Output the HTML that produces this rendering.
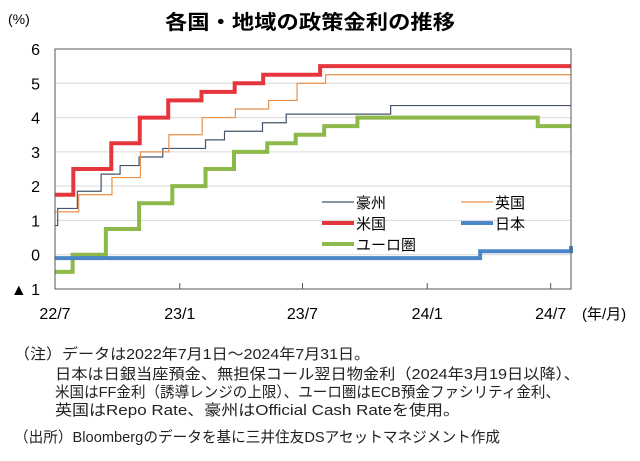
<!DOCTYPE html>
<html><head><meta charset="utf-8"><style>
body{margin:0;background:#fff}
svg{display:block;font-family:"Liberation Sans","Noto Sans CJK JP",sans-serif}
</style></head><body>
<svg id="chart" width="640" height="461" viewBox="0 0 640 461" xmlns="http://www.w3.org/2000/svg">
<text x="165" y="29" textLength="290" lengthAdjust="spacingAndGlyphs" font-size="20" font-weight="bold" fill="#000">各国・地域の政策金利の推移</text>
<text x="8" y="24" font-size="14" fill="#000">(%)</text>
<g id="grid"></g>
<g id="yticks"></g>
<g id="xticks"></g>
<g id="series"></g>
<rect x="55" y="49" width="516" height="240" fill="none" stroke="#555" stroke-width="1"/>
<text x="582" y="319" font-size="15" fill="#000">(年/月)</text>
<g id="legend" font-size="15"></g>
<g font-size="15" fill="#222">
<text x="14" y="359" textLength="356" lengthAdjust="spacingAndGlyphs">（注）データは2022年7月1日～2024年7月31日。</text>
<text x="55" y="379" textLength="525" lengthAdjust="spacingAndGlyphs">日本は日銀当座預金、無担保コール翌日物金利（2024年3月19日以降）、</text>
<text x="55" y="397" textLength="505" lengthAdjust="spacingAndGlyphs">米国はFF金利（誘導レンジの上限）、ユーロ圏はECB預金ファシリティ金利、</text>
<text x="55" y="415" textLength="405" lengthAdjust="spacingAndGlyphs">英国はRepo Rate、豪州はOfficial Cash Rateを使用。</text>
<text x="14" y="442" textLength="486" lengthAdjust="spacingAndGlyphs">（出所）Bloombergのデータを基に三井住友DSアセットマネジメント作成</text>
</g>
</svg>
<script>
const yTicks=[6,5,4,3,2,1,0,-1];
const xTickLabels=["22/7","23/1","23/7","24/1","24/7"];
const xTickDates=["2022-07-01","2023-01-01","2023-07-01","2024-01-01","2024-07-01"];
const ausDates=["2022-07-01","2022-07-05","2022-08-03","2022-09-07","2022-10-05","2022-11-02","2022-12-07","2023-02-08","2023-03-08","2023-05-03","2023-06-07","2023-11-08"];
const ausValues=[0.85,1.35,1.85,2.35,2.6,2.85,3.1,3.35,3.6,3.85,4.1,4.35];
const ukDates=["2022-07-01","2022-08-05","2022-09-23","2022-11-04","2022-12-16","2023-02-03","2023-03-24","2023-05-12","2023-06-23","2023-08-04"];
const ukValues=[1.25,1.75,2.25,3.0,3.5,4.0,4.25,4.5,5.0,5.25];
const usDates=["2022-07-01","2022-07-28","2022-09-22","2022-11-03","2022-12-15","2023-02-02","2023-03-23","2023-05-04","2023-07-27"];
const usValues=[1.75,2.5,3.25,4.0,4.5,4.75,5.0,5.25,5.5];
const euDates=["2022-07-01","2022-07-27","2022-09-14","2022-11-02","2022-12-21","2023-02-08","2023-03-22","2023-05-10","2023-06-21","2023-08-02","2023-09-20","2024-06-12"];
const euValues=[-0.5,0,0.75,1.5,2.0,2.5,3.0,3.25,3.5,3.75,4.0,3.75];
const jpDates=["2022-07-01","2024-03-19","2024-07-31"];
const jpValues=[-0.1,0.1,0.25];
const END="2024-07-31";

const NS="http://www.w3.org/2000/svg";
const t0=Date.parse("2022-07-01"),t1=Date.parse(END);
const X0=55,X1=571,Y0=289,Y1=49;
function xs(d){return X0+(Date.parse(d)-t0)/(t1-t0)*(X1-X0);}
function ys(v){return Y0-(v-(-1))/7*(Y0-Y1);}
function mk(tag,attrs,parent){const e=document.createElementNS(NS,tag);for(const k in attrs)e.setAttribute(k,attrs[k]);parent.appendChild(e);return e;}
const grid=document.getElementById('grid'),yt=document.getElementById('yticks'),xt=document.getElementById('xticks');
yTicks.forEach(v=>{
  const l=mk('line',{x1:X0,x2:X1,y1:ys(v),y2:ys(v),stroke:'#d9d9d9','stroke-width':1},grid);
  
  
  const t=mk('text',{x:40,y:ys(v)+6,'text-anchor':'end','font-size':16,fill:'#000'},yt);
  t.textContent=v<0?'▲ '+Math.abs(v):String(v);
  
  
});
xTickDates.forEach((d,i)=>{
  const x=xs(d);
  if(i>0){const l=mk('line',{x1:x,x2:x,y1:Y0,y2:Y0-6,stroke:'#555'},xt);
  
  }
  const t=mk('text',{x:x,y:319,'text-anchor':'middle','font-size':16,fill:'#000'},xt);
  t.textContent=xTickLabels[i];
  
  
});
function step(dates,vals,isJp){
  let p='';
  dates.forEach((d,i)=>{
    const x=xs(d),y=ys(vals[i]);
    if(i===0)p+='M'+x+','+y;else p+=' H'+x+' V'+y;
  });
  if(!isJp)p+=' H'+X1;
  return p;
}
const sg=document.getElementById('series');
const defs=[
 ['series-euro',euDates,euValues,'#8db84a',4,false],
 ['series-australia',ausDates,ausValues,'#44546a',1.2,false],
 ['series-uk',ukDates,ukValues,'#e8904a',1.2,false],
 ['series-us',usDates,usValues,'#e5363d',4,false],
 ['series-japan',jpDates,jpValues,'#4a86c8',4,true]
];
defs.forEach(s=>{
  const p=mk('path',{d:step(s[1],s[2],s[5]),fill:'none',stroke:s[3],'stroke-width':s[4]},sg);
  
  
});
const lg=document.getElementById('legend');
[['豪州',322,202,'#44546a',1.2],['英国',461,202,'#e8904a',1.2],['米国',322,223,'#e5363d',4],['日本',461,223,'#4a86c8',4],['ユーロ圏',322,244,'#8db84a',4]].forEach(e=>{
  const g=mk('g',{},lg);
  
  
  mk('line',{x1:e[1],x2:e[1]+32,y1:e[2],y2:e[2],stroke:e[3],'stroke-width':e[4]},g);
  const t=mk('text',{x:e[1]+34,y:e[2]+6,fill:'#000'},g);t.textContent=e[0];
});
</script>
</body></html>
